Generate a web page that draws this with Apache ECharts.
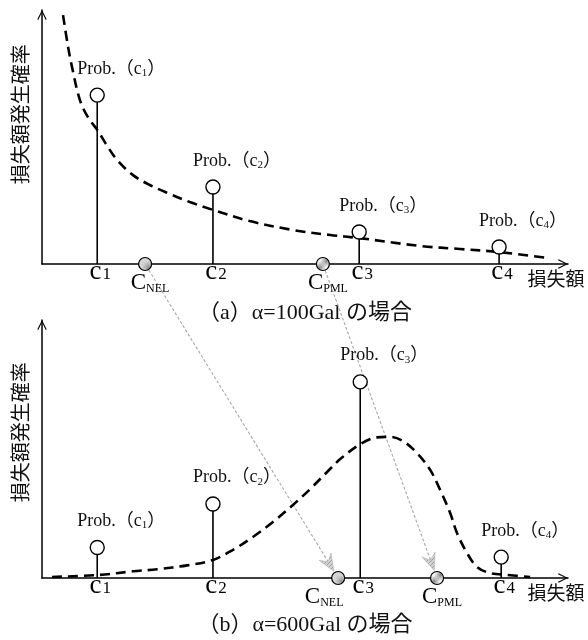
<!DOCTYPE html>
<html><head><meta charset="utf-8">
<script src="https://cdn.jsdelivr.net/npm/echarts@6/dist/echarts.min.js"></script>
<style>html,body{margin:0;padding:0;background:#fff}#c{width:588px;height:640px}</style>
</head><body><div id="c"></div>
<script>
// ---- data ----
const lossCategories = ['c1', 'c2', 'c3', 'c4'];
const lossPosA = [10.5, 32.5, 60.3, 86.9];
const lossPosB = [10.5, 32.5, 60.5, 87.3];
const probA = [66.5, 30.3, 12.6, 6.7];
const probB = [11.8, 28.7, 76.0, 8.1];
const markerNames = ['NEL', 'PML'];
const markerPosA = [19.6, 53.4];
const markerPosB = [56.3, 75.1];
const curveA = [[4.0, 98.0], [4.9, 86.2], [5.7, 77.6], [7.2, 64.6], [8.7, 57.9], [10.5, 52.8], [12.4, 46.5], [14.3, 40.9], [17.3, 35.0], [20.5, 31.1], [23.8, 28.0], [28.1, 24.4], [32.5, 21.3], [39.5, 16.9], [47.7, 13.4], [54.8, 11.4], [60.3, 10.2], [71.9, 7.1], [79.5, 5.9], [86.9, 4.7], [96.0, 2.4]];
const curveB = [[1.9, 0.4], [11.0, 1.2], [17.3, 2.6], [21.9, 3.4], [27.6, 4.9], [32.5, 7.0], [36.3, 10.9], [40.1, 15.9], [43.9, 21.7], [47.7, 28.3], [51.0, 34.5], [54.2, 41.1], [56.7, 46.1], [60.5, 51.9], [63.7, 54.5], [66.2, 54.7], [68.6, 53.1], [71.3, 48.4], [73.8, 41.9], [75.7, 34.1], [77.6, 25.2], [78.9, 17.4], [80.8, 9.7], [82.7, 4.3], [85.2, 1.9], [88.4, 1.2], [92.8, 0.4]];
const panelTitles = ['（a）α=100Gal の場合', '（b）α=600Gal の場合'];
const xAxisName = '損失額';
const yAxisName = '損失額発生確率';

// ---- styles ----
const serif = '"Liberation Serif","Times New Roman","Noto Sans CJK JP",serif';
const sans = '"Noto Sans CJK JP","Noto Sans",sans-serif';

function makePattern(kind) {
  const cv = document.createElement('canvas');
  const sz = kind === 1 ? 5 : 4;
  cv.width = sz; cv.height = sz;
  const g = cv.getContext('2d');
  if (kind === 0) {
    g.fillStyle = '#d6d6d6'; g.fillRect(0, 0, sz, sz);
    g.fillStyle = '#8e8e8e'; g.fillRect(0, 0, 1, 1); g.fillRect(2, 2, 1, 1);
  } else if (kind === 1) {
    g.fillStyle = '#ffffff'; g.fillRect(0, 0, sz, sz);
    g.strokeStyle = '#666'; g.lineWidth = 0.8;
    g.beginPath(); g.moveTo(0, sz); g.lineTo(sz, 0); g.stroke();
  } else {
    g.fillStyle = '#d2d2d2'; g.fillRect(0, 0, sz, sz);
    g.strokeStyle = '#a0a0a0'; g.lineWidth = 1;
    g.beginPath(); g.moveTo(0, sz); g.lineTo(sz, 0); g.stroke();
  }
  return { image: cv, repeat: 'repeat' };
}
const markerFills = [makePattern(0), makePattern(1)];
const arrowFill = makePattern(2);

const arrowPath = 'path://M0,10 L5,0 L10,10 L9,10.7 L5,2.3 L1,10.7 Z';
const axisLineStyle = { show: true, symbol: ['none', arrowPath], symbolSize: [11, 10], symbolOffset: [0, -5], lineStyle: { color: '#000', width: 1.5 } };

const grids = [
  { left: 42, top: 10, width: 526, height: 254 },
  { left: 42, top: 320, width: 526, height: 258 }
];
const xAxes = grids.map((g, i) => ({ type: 'value', gridIndex: i, min: 0, max: 100, axisLine: axisLineStyle, axisTick: { show: false }, axisLabel: { show: false }, splitLine: { show: false } }));
const yAxes = grids.map((g, i) => ({ type: 'value', gridIndex: i, min: 0, max: 100, axisLine: axisLineStyle, axisTick: { show: false }, axisLabel: { show: false }, splitLine: { show: false } }));

const probRich = {
  m: { fontFamily: serif, fontSize: 18, color: '#111' },
  s: { fontFamily: serif, fontSize: 11, color: '#111', padding: [8, 0, 0, 0] }
};
const cRich = {
  m: { fontFamily: serif, fontSize: 27, color: '#000', lineHeight: 26 },
  d: { fontFamily: serif, fontSize: 17, color: '#000', lineHeight: 26, padding: [5, 0, 0, 1] }
};
const capRich = {
  m: { fontFamily: serif, fontSize: 23, color: '#000', lineHeight: 24 },
  s: { fontFamily: serif, fontSize: 12, color: '#000', lineHeight: 24, padding: [12, 0, 0, 0] }
};

function panelSeries(p, xs, ys, curve, mk) {
  const ax = { xAxisIndex: p, yAxisIndex: p };
  return [
    { type: 'line', ...ax, data: curve, smooth: 0.35, symbol: 'none', lineStyle: { color: '#000', width: 2.6, type: [10, 6] }, z: 3, silent: true },
    { type: 'bar', ...ax, data: xs.map((x, i) => [x, ys[i]]), barWidth: 1.6, itemStyle: { color: '#000' }, z: 2, silent: true },
    { type: 'scatter', ...ax, clip: false, data: xs.map((x, i) => ({ value: [x, ys[i]], name: lossCategories[i] })), symbol: 'circle', symbolSize: 14,
      itemStyle: { color: '#fff', borderColor: '#000', borderWidth: 1.4, opacity: 1 }, z: 5,
      label: { show: true, position: 'top', distance: 9, offset: [24, 0], color: '#111', formatter: d => `{m|Prob.（c}{s|${d.name.slice(1)}}{m|）}`, rich: probRich } },
    { type: 'scatter', ...ax, clip: false, data: xs.map((x, i) => ({ value: [x, 0], name: lossCategories[i] })), symbolSize: 0, itemStyle: { color: '#000', opacity: 1 }, z: 4,
      label: { show: true, position: 'bottom', distance: -5, offset: [3, 0], color: '#000', opacity: 1, formatter: d => `{m|c}{d|${d.name.slice(1)}}`, rich: cRich } },
    { type: 'scatter', ...ax, clip: false, data: mk.map((x, i) => ({ value: [x, 0], name: markerNames[i], itemStyle: { color: markerFills[i] },
        label: { offset: [(p === 1 && i === 0) ? -14 : 5, 0] } })),
      symbol: 'circle', symbolSize: 13, itemStyle: { borderColor: '#000', borderWidth: 1.2, opacity: 1 }, z: 6,
      label: { show: true, position: 'bottom', distance: 0, color: '#000', formatter: d => `{m|C}{s|${d.name}}`, rich: capRich } }
  ];
}

const series = [
  ...panelSeries(0, lossPosA, probA, curveA, markerPosA),
  ...panelSeries(1, lossPosB, probB, curveB, markerPosB)
];

const chart = echarts.init(document.getElementById('c'));
chart.setOption({
  animation: false,
  backgroundColor: '#fff',
  grid: grids,
  xAxis: xAxes,
  yAxis: yAxes,
  series: series
});

// ---- text and arrows placed from the library's scales ----
const texts = [];
grids.forEach((g, i) => {
  const bottom = g.top + g.height;
  texts.push({ type: 'text', x: 305, y: bottom + (i === 0 ? 49 : 47), style: { text: panelTitles[i], font: '22px ' + serif, fill: '#111', align: 'center', verticalAlign: 'middle' } });
  texts.push({ type: 'text', x: 556, y: bottom + 15, style: { text: xAxisName, font: '19px ' + sans, fill: '#111', align: 'center', verticalAlign: 'middle' } });
  texts.push({ type: 'text', x: 20, y: g.top + g.height * (i === 0 ? 0.41 : 0.435), rotation: Math.PI / 2, style: { text: yAxisName, font: '20px ' + sans, fill: '#111', align: 'center', verticalAlign: 'middle' } });
});

markerNames.forEach((n, i) => {
  const a = chart.convertToPixel({ gridIndex: 0 }, [markerPosA[i], 0]);
  const b = chart.convertToPixel({ gridIndex: 1 }, [markerPosB[i], 0]);
  const dx = b[0] - a[0], dy = b[1] - a[1];
  const len = Math.sqrt(dx * dx + dy * dy);
  const ux = dx / len, uy = dy / len, nx = -uy, ny = ux;
  const tip = [b[0] - ux * 8, b[1] - uy * 8];
  const back = 17, half = 7, notch = 11;
  const L = [tip[0] - ux * back + nx * half, tip[1] - uy * back + ny * half];
  const R = [tip[0] - ux * back - nx * half, tip[1] - uy * back - ny * half];
  const N = [tip[0] - ux * notch, tip[1] - uy * notch];
  const S = [a[0] + ux * 7, a[1] + uy * 7];
  texts.push({ type: 'line', z: 1, shape: { x1: S[0], y1: S[1], x2: N[0], y2: N[1] }, style: { stroke: '#a8a8a8', lineWidth: 1.1, lineDash: [3, 2] } });
  texts.push({ type: 'polygon', z: 1, shape: { points: [tip, L, N, R] }, style: { fill: arrowFill, stroke: '#b0b0b0', lineWidth: 0.6 } });
});

chart.setOption({ graphic: texts });
</script>
</body></html>
